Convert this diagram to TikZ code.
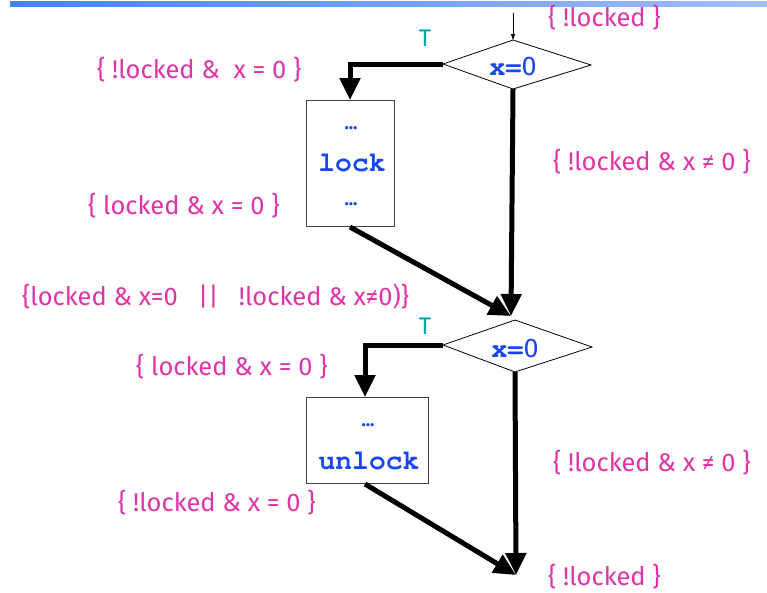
\documentclass[tikz,border=0pt]{standalone}
\usepackage{fontspec}
\setmainfont{Fira Sans}
\setsansfont{Fira Sans}
\setmonofont{TeX Gyre Cursor}
\usetikzlibrary{arrows.meta,shapes.geometric}
\definecolor{pinkc}{RGB}{222,52,165}
\definecolor{bluec}{RGB}{25,70,245}
\definecolor{tealc}{RGB}{0,165,175}
\definecolor{barA}{RGB}{70,130,240}
\definecolor{barB}{RGB}{160,190,250}
\tikzset{
  cond/.style={text=pinkc, font=\fontsize{25.5}{27}\selectfont, inner sep=0pt, anchor=west},
  tlab/.style={text=tealc, font=\fontsize{24}{26}\selectfont, inner sep=0pt},
  code/.style={text=bluec, font=\ttfamily\bfseries\fontsize{28}{30}\selectfont, inner sep=0pt},
  dots/.style={text=bluec, font=\sffamily\bfseries\fontsize{18}{20}\selectfont, inner sep=0pt},
  xz/.style={inner sep=0pt, text=bluec},
  stepbox/.style={draw=black!75, line width=1pt, fill=white},
  flow/.style={line width=5pt, -{Triangle[width=20pt,length=22pt]}},
  dec/.style={draw=black, line width=0.8pt, fill=white}
}
\newcommand{\xeqz}{{\ttfamily\bfseries\fontsize{27}{28}\selectfont x=}{\sffamily\fontsize{27}{28}\selectfont 0}}
\begin{document}
\begin{tikzpicture}[x=1pt,y=-1pt]
\useasboundingbox (0,0) rectangle (767,592);
\shade[left color=barA, right color=barB] (10,1) rectangle (767,6);

% decision 1
\coordinate (d1t) at (513,40);
\coordinate (d1l) at (443,64);
\coordinate (d1r) at (591,65);
\coordinate (d1b) at (513,89);
\draw[dec] (d1t) -- (d1r) -- (d1b) -- (d1l) -- cycle;
\node[xz] (x1) at (513,66) {\xeqz};
\coordinate (in1) at (513,13);
\draw[line width=0.7pt, -{Triangle[width=4pt,length=6pt]}] (in1) -- (d1t);

% lock box
\node[stepbox, minimum width=88pt, minimum height=126pt, anchor=north west] (lockb) at (306,100) {};
\node[dots] (ld1) at (351,128) {...};
\node[code] (lockt) at (352,163) {lock};
\node[dots] (ld2) at (351,204) {...};

% decision 2
\coordinate (d2t) at (515,320);
\coordinate (d2l) at (443,345);
\coordinate (d2r) at (592,347);
\coordinate (d2b) at (515,372);
\draw[dec] (d2t) -- (d2r) -- (d2b) -- (d2l) -- cycle;
\node[xz] (x2) at (515,348) {\xeqz};

% unlock box
\node[stepbox, minimum width=122pt, minimum height=86pt, anchor=north west] (unlockb) at (306,397) {};
\node[dots] (ud1) at (368,425) {...};
\node[code] (unlockt) at (369,461) {unlock};

\coordinate (end1) at (511,316);
\coordinate (end2) at (516,575);

% flows
\draw[flow] (d1l) -- (350,64) -- (lockb.north -| 350,0);
\draw[flow] (lockb.south -| 350,0) -- (end1);
\draw[flow] (d1b) -- (end1);
\draw[flow] (d2l) -- (365,345) -- (unlockb.north -| 365,0);
\draw[flow] (unlockb.south -| 365,0) -- (end2);
\draw[flow] (d2b) -- (end2);

% T labels
\node[tlab] (t1) at (425,38) {T};
\node[tlab] (t2) at (425,326) {T};

% conditions
\node[cond] (c1) at (548,18) {\{ !locked \}};
\node[cond] (c2) at (97,70) {\{ !locked \&\ \ x = 0 \}};
\node[cond] (c3) at (553,162) {\{ !locked \& x ≠ 0 \}};
\node[cond] (c4) at (88,206) {\{ locked \& x = 0 \}};
\node[cond] (c5) at (22,297) {\{locked \& x=0\ \ \ ||\ \ \ !locked \& x≠0)\}};
\node[cond] (c6) at (136,367) {\{ locked \& x = 0 \}};
\node[cond] (c7) at (553,463) {\{ !locked \& x ≠ 0 \}};
\node[cond] (c8) at (118,503) {\{ !locked \& x = 0 \}};
\node[cond] (c9) at (548,577) {\{ !locked \}};
\end{tikzpicture}
\end{document}
